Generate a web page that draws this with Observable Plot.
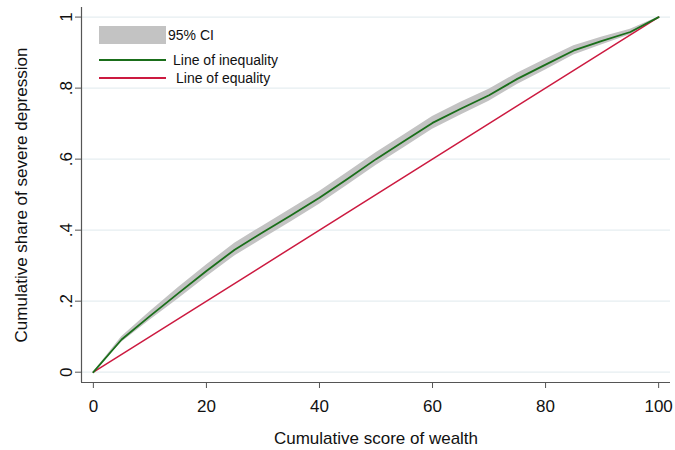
<!DOCTYPE html>
<html>
<head>
<meta charset="utf-8">
<script src="https://cdn.jsdelivr.net/npm/d3@7"></script>
<script src="https://cdn.jsdelivr.net/npm/@observablehq/plot@0.6"></script>
<style>
  html, body { margin: 0; padding: 0; background: #fff; }
  #wrap { position: relative; width: 675px; height: 450px; font-family: Arial, "Liberation Sans", sans-serif; }
  .leg { position: absolute; font-size: 14px; color: #111; white-space: nowrap; }
</style>
</head>
<body>
<div id="wrap"></div>
<script>
// Data
const wealth = [0, 5, 10, 15, 20, 25, 30, 35, 40, 45, 50, 55, 60, 65, 70, 75, 80, 85, 90, 95, 100];
const share  = [0, 0.092, 0.158, 0.222, 0.285, 0.345, 0.394, 0.442, 0.491, 0.545, 0.600, 0.651, 0.702, 0.742, 0.780, 0.826, 0.866, 0.906, 0.933, 0.958, 1.0];
const ciLow  = [0, 0.084, 0.146, 0.206, 0.268, 0.327, 0.376, 0.424, 0.473, 0.527, 0.582, 0.633, 0.684, 0.724, 0.763, 0.810, 0.851, 0.893, 0.922, 0.950, 1.0];
const ciHigh = [0, 0.100, 0.170, 0.238, 0.302, 0.363, 0.412, 0.460, 0.509, 0.563, 0.618, 0.669, 0.720, 0.760, 0.797, 0.842, 0.881, 0.919, 0.944, 0.966, 1.0];
const equalityX = [0, 100];
const equalityY = [0, 1];
const xTicks = [0, 20, 40, 60, 80, 100];
const yTicks = [0, 0.2, 0.4, 0.6, 0.8, 1];
const yTickLabels = ["0", ".2", ".4", ".6", ".8", "1"];

const curve = wealth.map((w, i) => ({w, s: share[i], lo: ciLow[i], hi: ciHigh[i]}));
const equality = equalityX.map((x, i) => ({x, y: equalityY[i]}));

const xDomain = [-2.1, 102.1];
const yDomain = [-0.029, 1.027];

const axisColor = "#555555";

const chart = Plot.plot({
  width: 675,
  height: 450,
  marginLeft: 81,
  marginRight: 5,
  marginTop: 7,
  marginBottom: 68,
  style: {fontFamily: 'Arial, "Liberation Sans", sans-serif', fontSize: "17px", color: "#111", background: "#fff"},
  x: {domain: xDomain},
  y: {domain: yDomain},
  marks: [
    Plot.gridY(yTicks, {stroke: "#e6eef1", strokeOpacity: 1, strokeWidth: 1.2}),
    Plot.areaY(curve, {x: "w", y1: "lo", y2: "hi", fill: "#c3c3c3", curve: "linear"}),
    Plot.line(equality, {x: "x", y: "y", stroke: "#cc1a40", strokeWidth: 1.5}),
    Plot.line(curve, {x: "w", y: "s", stroke: "#1a6e1a", strokeWidth: 1.8}),
    Plot.ruleY([yDomain[0]], {stroke: axisColor, strokeWidth: 1.2}),
    Plot.ruleX([xDomain[0]], {stroke: axisColor, strokeWidth: 1.2}),
    Plot.axisX(xTicks, {tickSize: 6, tickPadding: 11, stroke: axisColor, fontSize: 17,
      label: "Cumulative score of wealth", labelAnchor: "center", labelArrow: "none", labelOffset: 61}),
    Plot.axisY(yTicks, {tickSize: 6, tickPadding: 4, stroke: axisColor, fontSize: 17, tickRotate: -90,
      tickFormat: (d) => yTickLabels[yTicks.indexOf(d)],
      label: "Cumulative share of severe depression", labelAnchor: "center", labelArrow: "none", labelOffset: 67})
  ]
});

const wrap = document.getElementById("wrap");
wrap.appendChild(chart);

// Legend (inside plot area, upper-left)
const legendItems = [
  {label: "95% CI", kind: "box", color: "#c3c3c3", top: 26, textLeft: 168},
  {label: "Line of inequality", kind: "line", color: "#1a6e1a", top: 60, textLeft: 173},
  {label: "Line of equality", kind: "line", color: "#cc1a40", top: 78, textLeft: 176}
];
for (const it of legendItems) {
  const sw = document.createElement("div");
  sw.style.position = "absolute";
  sw.style.left = "99px";
  sw.style.width = "67px";
  if (it.kind === "box") {
    sw.style.top = it.top + "px";
    sw.style.height = "18px";
    sw.style.background = it.color;
  } else {
    sw.style.top = (it.top - 1) + "px";
    sw.style.height = "2px";
    sw.style.background = it.color;
  }
  wrap.appendChild(sw);
  const tx = document.createElement("div");
  tx.className = "leg";
  tx.textContent = it.label;
  tx.style.left = it.textLeft + "px";
  const cy = it.kind === "box" ? it.top + 9 : it.top;
  tx.style.top = (cy - 8) + "px";
  tx.style.lineHeight = "16px";
  wrap.appendChild(tx);
}
</script>
</body>
</html>
